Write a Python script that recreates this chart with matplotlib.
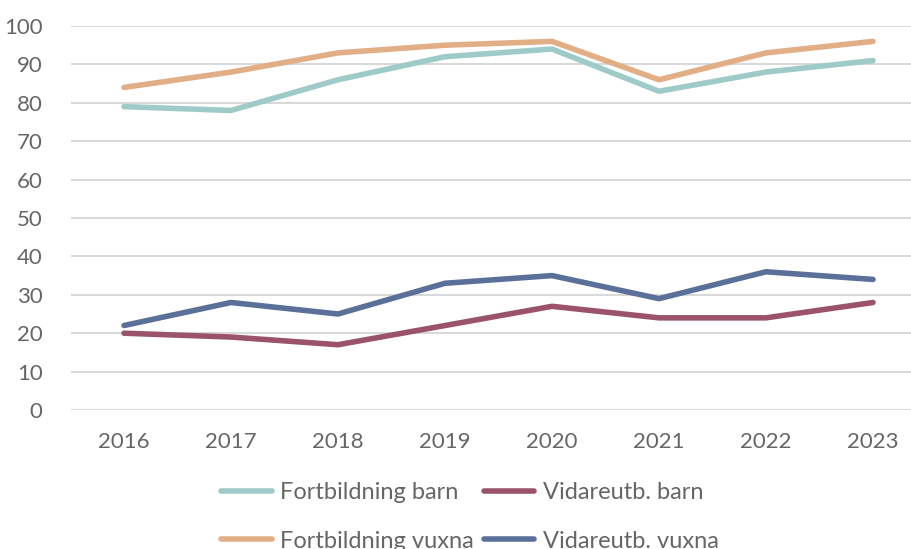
import matplotlib
matplotlib.use("Agg")
import matplotlib.pyplot as plt

years = ["2016", "2017", "2018", "2019", "2020", "2021", "2022", "2023"]
fort_barn = [79, 78, 86, 92, 94, 83, 88, 91]
vid_barn = [20, 19, 17, 22, 27, 24, 24, 28]
fort_vuxna = [84, 88, 93, 95, 96, 86, 93, 96]
vid_vuxna = [22, 28, 25, 33, 35, 29, 36, 34]
yticks = [0, 10, 20, 30, 40, 50, 60, 70, 80, 90, 100]

plt.rcParams['font.family'] = ['Lato', 'DejaVu Sans']

W, H = 912, 549
fig = plt.figure(figsize=(W / 100, H / 100), dpi=100)
ax = fig.add_axes([70.5 / W, 1 - 410 / H, 856 / W, 384 / H])

x = list(range(len(years)))
lw = 4.0
kw = dict(lw=lw, solid_capstyle="round", solid_joinstyle="round", zorder=3)
l1, = ax.plot(x, fort_barn, color="#9ECBC8", label="Fortbildning barn", **kw)
l2, = ax.plot(x, vid_barn, color="#9B536B", label="Vidareutb. barn", **kw)
l3, = ax.plot(x, fort_vuxna, color="#E2AE86", label="Fortbildning vuxna", **kw)
l4, = ax.plot(x, vid_vuxna, color="#5A7099", label="Vidareutb. vuxna", **kw)

ax.set_xlim(-0.5, len(years) - 0.5)
ax.set_ylim(0, 100)
ax.set_yticks(yticks)
ax.set_xticks(x)
ax.set_xticklabels(years)
ax.grid(axis="y", color="#D9D9D9", lw=1.5)
ax.set_axisbelow(True)
for s in ax.spines.values():
    s.set_visible(False)
ax.tick_params(length=0, labelsize=16, colors="#666666")
ax.tick_params(axis="y", pad=20)
ax.tick_params(axis="x", pad=16)

leg = fig.legend(handles=[l1, l3, l2, l4], ncol=2, loc="center",
                 bbox_to_anchor=(470 / W, 1 - 517 / H), frameon=False,
                 handlelength=2.15, handletextpad=0.35,
                 columnspacing=0.4, labelspacing=1.15,
                 prop={'size': 17})
for t in leg.get_texts():
    t.set_color("#666666")

fig.savefig("out.png", dpi=100)
